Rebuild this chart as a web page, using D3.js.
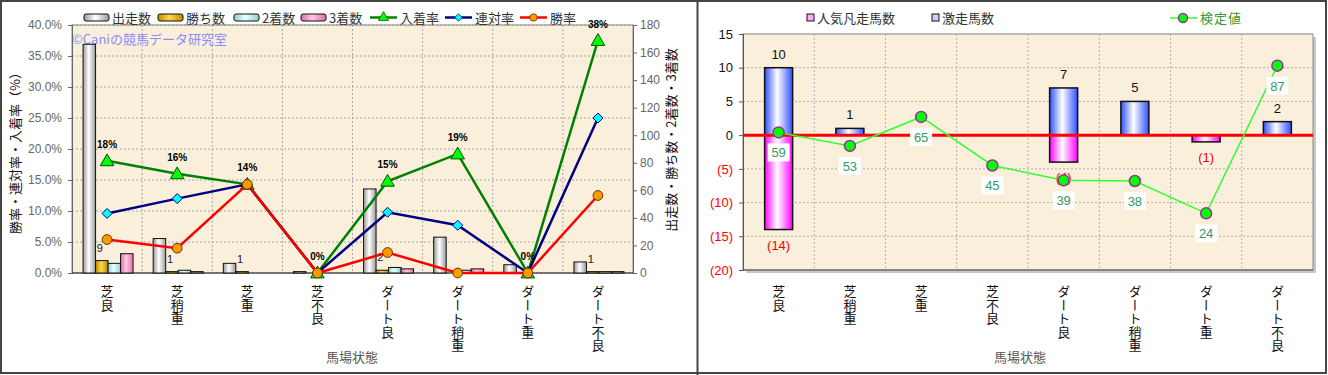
<!DOCTYPE html>
<html>
<head>
<meta charset="utf-8">
<script src="https://d3js.org/d3.v7.min.js"></script>
<style>
  body { margin: 0; background: #fff; }
  svg text { font-family: "Noto Sans CJK JP", "Noto Sans", sans-serif; }
  .vlabel { writing-mode: vertical-rl; letter-spacing: 0.5px; }
</style>
</head>
<body>
<div id="chart"></div>
<script>

const categories = ['芝良', '芝稍重', '芝重', '芝不良', 'ダート良', 'ダート稍重', 'ダート重', 'ダート不良'];

// left chart: counts
const starts  = [166, 25, 7, 1, 61, 26, 6, 8];
const wins    = [9, 1, 1, 0, 2, 0, 0, 1];
const seconds = [7, 2, 0, 0, 4, 2, 0, 1];
const thirds  = [14, 1, 0, 0, 3, 3, 0, 1];

// left chart: rates (%)
const winRate    = [5.4, 4.0, 14.3, 0, 3.3, 0, 0, 12.5];
const rentaiRate = [9.6, 12.0, 14.3, 0, 9.8, 7.7, 0, 25.0];
const placeRate  = [18.1, 16.0, 14.3, 0, 14.8, 19.2, 0, 37.5];

// right chart
const hitCount  = [10, 1, 0, 0, 7, 5, 0, 2];
const flopCount = [-14, 0, 0, 0, -4, 0, -1, 0];
const testValue = [0.4, -1.6, 2.7, -4.5, -6.7, -6.8, -11.6, 10.3];
const testLabel = [59, 53, 65, 45, 39, 38, 24, 87];

const svg = d3.select('#chart').append('svg')
  .attr('width', 1328).attr('height', 375);

const defs = svg.append('defs');

function hGrad(id, edge, mid) {
  const g = defs.append('linearGradient').attr('id', id)
    .attr('x1', '0%').attr('x2', '100%').attr('y1', '0%').attr('y2', '0%');
  g.append('stop').attr('offset', '0%').attr('stop-color', edge);
  g.append('stop').attr('offset', '45%').attr('stop-color', mid);
  g.append('stop').attr('offset', '100%').attr('stop-color', edge);
}
hGrad('gStart', '#9a9a9a', '#ffffff');
hGrad('gWin', '#c08a00', '#ffd84a');
hGrad('gSecond', '#8fd0d0', '#eaffff');
hGrad('gThird', '#d870a8', '#ffc8e4');
hGrad('gHit', '#3050ff', '#ffffff');
hGrad('gFlop', '#ff00ff', '#ffffff');

// panel frames
svg.append('rect').attr('x', 1).attr('y', 1).attr('width', 1325).attr('height', 372)
  .attr('fill', '#fff').attr('stroke', '#444').attr('stroke-width', 2);
svg.append('line').attr('x1', 697.5).attr('x2', 697.5).attr('y1', 0).attr('y2', 375)
  .attr('stroke', '#444').attr('stroke-width', 2);

// ---------------- left chart ----------------
const L = { left: 72, right: 633, top: 25, bottom: 273 };

const xL = d3.scaleBand().domain(categories).range([L.left, L.right]);
const yRate = d3.scaleLinear().domain([0, 40]).range([L.bottom, L.top]);
const yCount = d3.scaleLinear().domain([0, 180]).range([L.bottom, L.top]);

const left = svg.append('g');

left.append('rect').attr('x', L.left).attr('y', L.top)
  .attr('width', L.right - L.left).attr('height', L.bottom - L.top)
  .attr('fill', '#f9efda');

// grid
left.selectAll('.hgrid').data(yRate.ticks(8)).join('line')
  .attr('x1', L.left).attr('x2', L.right)
  .attr('y1', d => yRate(d)).attr('y2', d => yRate(d))
  .attr('stroke', '#a8a8a8').attr('stroke-dasharray', '2,2');
left.selectAll('.vgrid').data(categories.slice(1)).join('line')
  .attr('x1', d => xL(d)).attr('x2', d => xL(d))
  .attr('y1', L.top).attr('y2', L.bottom)
  .attr('stroke', '#a8a8a8').attr('stroke-dasharray', '2,2');

left.append('rect').attr('x', L.left).attr('y', L.top)
  .attr('width', L.right - L.left).attr('height', L.bottom - L.top)
  .attr('fill', 'none').attr('stroke', '#888');

// watermark
left.append('text').attr('x', L.left).attr('y', 44)
  .attr('font-size', 13).attr('fill', '#8c8cff')
  .text('©Caniの競馬データ研究室');

// axes
const axL = left.append('g').attr('transform', `translate(${L.left},0)`)
  .call(d3.axisLeft(yRate).ticks(8).tickSize(4).tickFormat(d => d.toFixed(1) + '%'));
const axR = left.append('g').attr('transform', `translate(${L.right},0)`)
  .call(d3.axisRight(yCount).ticks(9).tickSize(4));
[axL, axR].forEach(a => {
  a.select('.domain').attr('stroke', '#666');
  a.selectAll('.tick line').attr('stroke', '#666');
  a.selectAll('.tick text').attr('fill', '#666').attr('font-size', 12)
    .style('font-family', '"Liberation Sans", Arial, sans-serif');
});
axL.selectAll('.tick text').attr('x', -10);
axR.selectAll('.tick text').attr('x', 7);
left.append('line').attr('x1', L.left).attr('x2', L.right)
  .attr('y1', L.bottom).attr('y2', L.bottom).attr('stroke', '#333');

// bars
const barSeries = [
  { name: '出走数', values: starts, fill: 'url(#gStart)' },
  { name: '勝ち数', values: wins, fill: 'url(#gWin)' },
  { name: '2着数', values: seconds, fill: 'url(#gSecond)' },
  { name: '3着数', values: thirds, fill: 'url(#gThird)' }
];
const xSub = d3.scaleBand().domain(barSeries.map(s => s.name)).range([-24, 26]);

barSeries.forEach(s => {
  left.append('g').selectAll('rect').data(s.values).join('rect')
    .attr('x', (d, i) => xL(categories[i]) + xL.bandwidth() / 2 + xSub(s.name))
    .attr('width', xSub.bandwidth())
    .attr('y', d => yCount(d))
    .attr('height', d => L.bottom - yCount(d))
    .attr('fill', s.fill)
    .attr('stroke', '#111').attr('stroke-width', 1);
});

// wins labels
left.append('g').selectAll('text').data(wins).join('text')
  .attr('x', (d, i) => xL(categories[i]) + xL.bandwidth() / 2 + xSub('勝ち数') + xSub.bandwidth() / 2 - 2)
  .attr('y', d => yCount(d) - 9)
  .attr('text-anchor', 'middle').attr('font-size', 11).attr('fill', '#222')
  .style('font-family', '"Liberation Sans", Arial, sans-serif')
  .text(d => d > 0 ? d : '');

// lines
const cx = i => xL(categories[i]) + xL.bandwidth() / 2;
const lineSeries = [
  { name: '入着率', values: placeRate, stroke: '#008000', marker: 'tri', fill: '#00ff00', mstroke: '#005000' },
  { name: '連対率', values: rentaiRate, stroke: '#000080', marker: 'dia', fill: '#00ffff', mstroke: '#000080' },
  { name: '勝率', values: winRate, stroke: '#ff0000', marker: 'circ', fill: '#ff9900', mstroke: '#663300' }
];
const markerPath = {
  tri: d3.symbol().type(d3.symbolTriangle).size(80)(),
  dia: 'M0,-5L5,0L0,5L-5,0Z',
  circ: d3.symbol().type(d3.symbolCircle).size(75)()
};
const line = d3.line().x((d, i) => cx(i)).y(d => yRate(d));

lineSeries.forEach(s => {
  left.append('path').datum(s.values).attr('d', line)
    .attr('fill', 'none').attr('stroke', s.stroke).attr('stroke-width', 2.5);
  left.append('g').selectAll('path').data(s.values).join('path')
    .attr('transform', (d, i) => `translate(${cx(i)},${yRate(d) + (s.marker === 'tri' ? 1 : 0)})`)
    .attr('d', markerPath[s.marker])
    .attr('fill', s.fill).attr('stroke', s.mstroke).attr('stroke-width', 1);
});

// place rate labels
left.append('g').selectAll('text').data(placeRate).join('text')
  .attr('x', (d, i) => cx(i))
  .attr('y', d => yRate(d) - 13)
  .attr('text-anchor', 'middle').attr('font-size', 10).attr('font-weight', 'bold')
  .style('font-family', '"Liberation Sans", Arial, sans-serif')
  .text(d => Math.round(d) + '%');

// x labels
left.append('g').selectAll('text').data(categories).join('text')
  .attr('class', 'vlabel')
  .attr('x', (d, i) => cx(i)).attr('y', 285)
  .attr('font-size', 13).attr('fill', '#111')
  .text(d => d);

left.append('text').attr('x', 352).attr('y', 362).attr('text-anchor', 'middle')
  .attr('font-size', 13).attr('fill', '#555').text('馬場状態');

left.append('text').attr('transform', 'translate(20,150) rotate(-90)')
  .attr('text-anchor', 'middle').attr('font-size', 13).attr('fill', '#111')
  .text('勝率・連対率・入着率（%）');
left.append('text').attr('transform', 'translate(676,140) rotate(-90)')
  .attr('text-anchor', 'middle').attr('font-size', 13).attr('fill', '#111')
  .text('出走数・勝ち数・2着数・3着数');

// left legend
const legL = left.append('g');
const legBarX = [84, 158, 234, 301];
barSeries.forEach((s, k) => {
  legL.append('rect').attr('x', legBarX[k]).attr('y', 14).attr('width', 25).attr('height', 7)
    .attr('rx', 2).attr('fill', s.fill).attr('stroke', '#111');
  legL.append('text').attr('x', legBarX[k] + 28).attr('y', 23)
    .attr('font-size', 13).attr('fill', '#333').text(s.name);
});
const legLineX = [370, 445, 520];
lineSeries.forEach((s, k) => {
  legL.append('line').attr('x1', legLineX[k]).attr('x2', legLineX[k] + 27)
    .attr('y1', 17.5).attr('y2', 17.5).attr('stroke', s.stroke).attr('stroke-width', 2.5);
  legL.append('path').attr('transform', `translate(${legLineX[k] + 13.5},17.5) scale(0.75)`)
    .attr('d', markerPath[s.marker])
    .attr('fill', s.fill).attr('stroke', s.mstroke);
  legL.append('text').attr('x', legLineX[k] + 30).attr('y', 23)
    .attr('font-size', 13).attr('fill', '#333').text(s.name);
});

// ---------------- right chart ----------------
const R = { left: 743, right: 1313, top: 34, bottom: 270 };
const xR = d3.scaleBand().domain(categories).range([R.left, R.right]);
const yR = d3.scaleLinear().domain([-20, 15]).range([R.bottom, R.top]);
const rcx = i => xR(categories[i]) + xR.bandwidth() / 2;

const right = svg.append('g');

right.append('rect').attr('x', R.left + 3).attr('y', R.top + 3)
  .attr('width', R.right - R.left).attr('height', R.bottom - R.top).attr('fill', '#c8c8c8');
right.append('rect').attr('x', R.left).attr('y', R.top)
  .attr('width', R.right - R.left).attr('height', R.bottom - R.top)
  .attr('fill', '#f9efda').attr('stroke', '#888');

right.selectAll('.hgrid').data(yR.ticks(7)).join('line')
  .attr('x1', R.left).attr('x2', R.right)
  .attr('y1', d => yR(d)).attr('y2', d => yR(d))
  .attr('stroke', '#b0b0b0').attr('stroke-dasharray', '2,2');
right.selectAll('.vgrid').data(categories.slice(1)).join('line')
  .attr('x1', d => xR(d)).attr('x2', d => xR(d))
  .attr('y1', R.top).attr('y2', R.bottom)
  .attr('stroke', '#b0b0b0').attr('stroke-dasharray', '2,2');

const axRR = right.append('g').attr('transform', `translate(${R.left},0)`)
  .call(d3.axisLeft(yR).ticks(7).tickSize(4).tickFormat(d => d < 0 ? `(${-d})` : d));
axRR.select('.domain').attr('stroke', '#555');
axRR.selectAll('.tick line').attr('stroke', '#555');
axRR.selectAll('.tick text').attr('x', -10).attr('font-size', 13)
  .style('font-family', '"Liberation Sans", Arial, sans-serif')
  .attr('fill', d => d < 0 ? '#ff0000' : '#111');
right.append('line').attr('x1', R.left).attr('x2', R.right)
  .attr('y1', R.bottom).attr('y2', R.bottom).attr('stroke', '#555');

const bw = 28;
right.append('g').selectAll('rect').data(hitCount).join('rect')
  .attr('x', (d, i) => rcx(i) - bw / 2).attr('width', bw)
  .attr('y', d => yR(d)).attr('height', d => yR(0) - yR(d))
  .attr('fill', 'url(#gHit)').attr('stroke', d => d > 0 ? '#111' : 'none').attr('stroke-width', 1.5);
right.append('g').selectAll('rect').data(flopCount).join('rect')
  .attr('x', (d, i) => rcx(i) - bw / 2).attr('width', bw)
  .attr('y', yR(0)).attr('height', d => yR(d) - yR(0))
  .attr('fill', 'url(#gFlop)').attr('stroke', d => d < 0 ? '#111' : 'none').attr('stroke-width', 1.5);

// zero line
right.append('line').attr('x1', R.left).attr('x2', R.right)
  .attr('y1', yR(0)).attr('y2', yR(0)).attr('stroke', '#ff0000').attr('stroke-width', 3);

right.append('g').selectAll('text').data(hitCount).join('text')
  .attr('x', (d, i) => rcx(i)).attr('y', d => yR(d) - 9)
  .attr('text-anchor', 'middle').attr('font-size', 13).attr('fill', '#111')
  .style('font-family', '"Liberation Sans", Arial, sans-serif')
  .text(d => d > 0 ? d : '');
right.append('g').selectAll('text').data(flopCount).join('text')
  .attr('x', (d, i) => rcx(i)).attr('y', d => yR(d) + 20)
  .attr('text-anchor', 'middle').attr('font-size', 13).attr('fill', '#ff0000')
  .style('font-family', '"Liberation Sans", Arial, sans-serif')
  .text(d => d < 0 ? `(${-d})` : '');

// test value line
const tline = d3.line().x((d, i) => rcx(i)).y(d => yR(d));
right.append('path').datum(testValue).attr('d', tline)
  .attr('fill', 'none').attr('stroke', '#33ff33').attr('stroke-width', 1.5);
right.append('g').selectAll('circle').data(testValue).join('circle')
  .attr('cx', (d, i) => rcx(i)).attr('cy', d => yR(d)).attr('r', 5.5)
  .attr('fill', '#00ff00').attr('stroke', '#993399').attr('stroke-width', 1.5);

const tl = right.append('g').selectAll('g').data(testValue).join('g')
  .attr('transform', (d, i) => `translate(${rcx(i)},${yR(d) + 20})`);
tl.append('rect').attr('x', -11).attr('y', -9).attr('width', 22).attr('height', 18).attr('fill', '#fff');
tl.append('text').attr('y', 5).attr('text-anchor', 'middle').attr('font-size', 13)
  .attr('fill', '#339966')
  .style('font-family', '"Liberation Sans", Arial, sans-serif')
  .text((d, i) => testLabel[i]);

right.append('g').selectAll('text').data(categories).join('text')
  .attr('class', 'vlabel')
  .attr('x', (d, i) => rcx(i)).attr('y', 285)
  .attr('font-size', 13).attr('fill', '#111')
  .text(d => d);

right.append('text').attr('x', 1020).attr('y', 362).attr('text-anchor', 'middle')
  .attr('font-size', 13).attr('fill', '#555').text('馬場状態');

// right legend
const legR = right.append('g');
legR.append('rect').attr('x', 807).attr('y', 14).attr('width', 7).attr('height', 7)
  .attr('fill', '#ffaaff').attr('stroke', '#111');
legR.append('text').attr('x', 817).attr('y', 23).attr('font-size', 13).attr('fill', '#333').text('人気凡走馬数');
legR.append('rect').attr('x', 932).attr('y', 14).attr('width', 7).attr('height', 7)
  .attr('fill', '#c8d0ff').attr('stroke', '#111');
legR.append('text').attr('x', 942).attr('y', 23).attr('font-size', 13).attr('fill', '#333').text('激走馬数');
legR.append('line').attr('x1', 1170).attr('x2', 1197).attr('y1', 18).attr('y2', 18)
  .attr('stroke', '#33ff33').attr('stroke-width', 1.5);
legR.append('circle').attr('cx', 1183).attr('cy', 18).attr('r', 4.5)
  .attr('fill', '#00ff00').attr('stroke', '#993399').attr('stroke-width', 1.5);
legR.append('text').attr('x', 1200).attr('y', 23).attr('font-size', 13)
  .attr('fill', '#339933').attr('letter-spacing', 1).text('検定値');

</script>
</body>
</html>
